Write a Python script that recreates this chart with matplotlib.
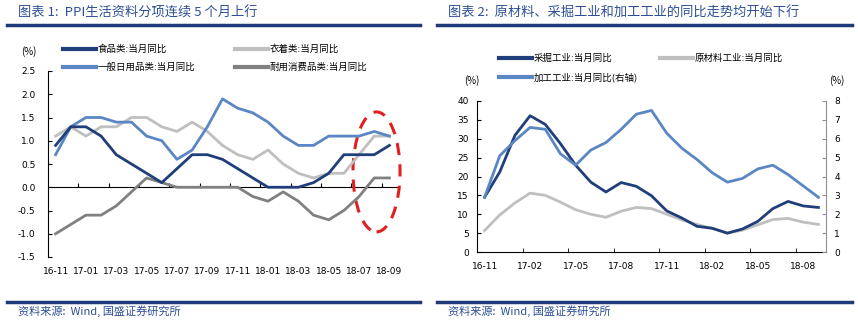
import numpy as np
import matplotlib
matplotlib.use('Agg')
import matplotlib.pyplot as plt
from matplotlib.patches import Ellipse
from matplotlib.lines import Line2D

plt.rcParams['font.family'] = ['Noto Sans CJK SC', 'DejaVu Sans']

# months 16-11 .. 18-09
months = ['16-11', '16-12', '17-01', '17-02', '17-03', '17-04', '17-05', '17-06',
          '17-07', '17-08', '17-09', '17-10', '17-11', '17-12', '18-01', '18-02',
          '18-03', '18-04', '18-05', '18-06', '18-07', '18-08', '18-09']

# chart 1: PPI consumer goods, yoy (%)
food = [0.9, 1.3, 1.3, 1.1, 0.7, 0.5, 0.3, 0.1, 0.4, 0.7, 0.7, 0.6,
        0.4, 0.2, 0.0, 0.0, 0.0, 0.1, 0.3, 0.7, 0.7, 0.7, 0.9]
clothing = [1.1, 1.3, 1.1, 1.3, 1.3, 1.5, 1.5, 1.3, 1.2, 1.4, 1.2, 0.9,
            0.7, 0.6, 0.8, 0.5, 0.3, 0.2, 0.3, 0.3, 0.7, 1.1, 1.1]
daily = [0.7, 1.3, 1.5, 1.5, 1.4, 1.4, 1.1, 1.0, 0.6, 0.8, 1.3, 1.9,
         1.7, 1.6, 1.4, 1.1, 0.9, 0.9, 1.1, 1.1, 1.1, 1.2, 1.1]
durable = [-1.0, -0.8, -0.6, -0.6, -0.4, -0.1, 0.2, 0.1, 0.0, 0.0, 0.0, 0.0,
           0.0, -0.2, -0.3, -0.1, -0.3, -0.6, -0.7, -0.5, -0.2, 0.2, 0.2]

# chart 2: mining / raw materials (left axis), processing (right axis)
mining = [14.5, 21.2, 30.9, 36.1, 33.8, 28.7, 23.0, 18.5, 15.9, 18.4, 17.4, 14.9,
          10.9, 9.0, 6.8, 6.3, 5.0, 6.1, 8.1, 11.5, 13.4, 12.2, 11.8]
raw = [5.7, 9.8, 13.0, 15.6, 15.0, 13.2, 11.2, 10.0, 9.2, 10.8, 11.8, 11.5,
       10.0, 8.5, 7.3, 6.2, 5.0, 5.8, 7.2, 8.6, 8.9, 7.9, 7.3]
processing = [2.9, 5.1, 5.9, 6.6, 6.5, 5.2, 4.6, 5.4, 5.8, 6.5, 7.3, 7.5,
              6.3, 5.5, 4.9, 4.2, 3.7, 3.9, 4.4, 4.6, 4.1, 3.5, 2.9]

NAVY = '#1F3E7A'
MID = '#5A86C4'
LGRAY = '#BFBFBF'
DGRAY = '#808080'
TITLE_C = '#2E4F96'
RULE_C = '#1F3A78'

W, H = 858, 322


def fx(v):
    return v / W


def fy(v):
    return 1 - v / H


fig = plt.figure(figsize=(W / 100, H / 100), dpi=100)
x = np.arange(len(months))
tick_font = dict(family='DejaVu Sans', size=6.5)

# ---------------- left chart ----------------
ax1 = fig.add_axes([fx(48), fy(257), fx(397) - fx(48), fy(71) - fy(257)])
ax1.plot(x, durable, color=DGRAY, lw=2)
ax1.plot(x, clothing, color=LGRAY, lw=2)
ax1.plot(x, daily, color=MID, lw=2)
ax1.plot(x, food, color=NAVY, lw=2)
ax1.set_xlim(-0.5, len(months) - 0.5)
ax1.set_ylim(-1.5, 2.5)
for s in ['top', 'right', 'bottom']:
    ax1.spines[s].set_visible(False)
ax1.spines['left'].set_linewidth(0.8)
yt = np.arange(-1.5, 2.51, 0.5)
ax1.set_yticks(yt)
ax1.set_yticklabels(['%.1f' % v for v in yt], **tick_font)
ax1.set_xticks(x[::2])
ax1.set_xticklabels(months[::2], **tick_font)
ax1.tick_params(axis='x', length=0, pad=7)
ax1.tick_params(axis='y', direction='in', length=3, pad=9)
sec = ax1.secondary_xaxis(1.5 / 4.0)
sec.set_xticks(np.arange(1.5, len(months) - 1, 2))
sec.tick_params(direction='in', length=3, labelbottom=False)
sec.spines['bottom'].set_linewidth(0.8)

ell = Ellipse((21.15, 0.33), 3.1, 2.58, fill=False, edgecolor='#E02020',
              lw=2.2, linestyle=(0, (4, 3)), clip_on=False)
ax1.add_patch(ell)

fig.text(fx(29), fy(52), '(%)', ha='center', va='center', fontsize=7)

leg1 = [(NAVY, '食品类:当月同比', 63, 49),
        (LGRAY, '衣着类:当月同比', 235, 49),
        (MID, '一般日用品类:当月同比', 63, 67),
        (DGRAY, '耐用消费品类:当月同比', 235, 67)]
for c, lab, lx, ly in leg1:
    fig.add_artist(Line2D([fx(lx), fx(lx + 33)], [fy(ly), fy(ly)], color=c, lw=3,
                          transform=fig.transFigure))
    fig.text(fx(lx + 35), fy(ly), lab, ha='left', va='center', fontsize=6.8)

# ---------------- right chart ----------------
ax2 = fig.add_axes([fx(477), fy(252), fx(826) - fx(477), fy(101) - fy(252)])
ax2r = ax2.twinx()
ax2.plot(x, raw, color=LGRAY, lw=2)
ax2.plot(x, mining, color=NAVY, lw=2)
ax2r.plot(x, processing, color=MID, lw=2)
ax2.set_xlim(-0.5, len(months) - 0.5)
ax2.set_ylim(0, 40)
ax2r.set_ylim(0, 8)
ax2.set_yticks(np.arange(0, 41, 5))
ax2.set_yticklabels([str(v) for v in range(0, 41, 5)], **tick_font)
ax2r.set_yticks(np.arange(0, 9, 1))
ax2r.set_yticklabels([str(v) for v in range(0, 9)], **tick_font)
ax2.set_xticks(x[::3])
ax2.set_xticklabels(months[::3], **tick_font)
ax2.set_xticks(np.arange(2.5, len(months) - 1, 3), minor=True)
ax2.tick_params(axis='x', which='major', length=0, pad=7)
ax2.tick_params(axis='x', which='minor', direction='in', length=3)
ax2.tick_params(axis='y', direction='in', length=3, pad=6)
ax2r.tick_params(axis='y', direction='in', length=3, pad=6, color='#909090')
for a in (ax2, ax2r):
    a.spines['top'].set_visible(False)
ax2.spines['right'].set_visible(False)
ax2r.spines['left'].set_visible(False)
ax2r.spines['bottom'].set_visible(False)
ax2r.spines['right'].set_color('#909090')
ax2.spines['left'].set_linewidth(0.8)
ax2.spines['bottom'].set_linewidth(0.8)

fig.text(fx(472), fy(81), '(%)', ha='center', va='center', fontsize=7)
fig.text(fx(837), fy(81), '(%)', ha='center', va='center', fontsize=7)

leg2 = [(NAVY, '采掘工业:当月同比', 499, 58),
        (LGRAY, '原材料工业:当月同比', 660, 58),
        (MID, '加工工业:当月同比(右轴)', 499, 77)]
for c, lab, lx, ly in leg2:
    fig.add_artist(Line2D([fx(lx), fx(lx + 33)], [fy(ly), fy(ly)], color=c, lw=3,
                          transform=fig.transFigure))
    fig.text(fx(lx + 35), fy(ly), lab, ha='left', va='center', fontsize=6.8)

# ---------------- titles, rules, sources ----------------
titles = [('图表 1:  PPI生活资料分项连续 5 个月上行', 18, 7, 420),
          ('图表 2:  原材料、采掘工业和加工工业的同比走势均开始下行', 448, 437, 852)]
for t, tx, r0, r1 in titles:
    fig.text(fx(tx), fy(13), t, ha='left', va='center', fontsize=9.5,
             color=TITLE_C, style='italic')
    fig.add_artist(Line2D([fx(r0), fx(r1)], [fy(25), fy(25)], color=RULE_C, lw=2.5,
                          transform=fig.transFigure))
    fig.add_artist(Line2D([fx(r0), fx(r1)], [fy(302), fy(302)], color=RULE_C, lw=2.5,
                          transform=fig.transFigure))
    fig.text(fx(r0 + 11), fy(311), '资料来源:  Wind, 国盛证券研究所', ha='left',
             va='center', fontsize=8, color=TITLE_C, style='italic')

fig.savefig('out.png', dpi=100)
